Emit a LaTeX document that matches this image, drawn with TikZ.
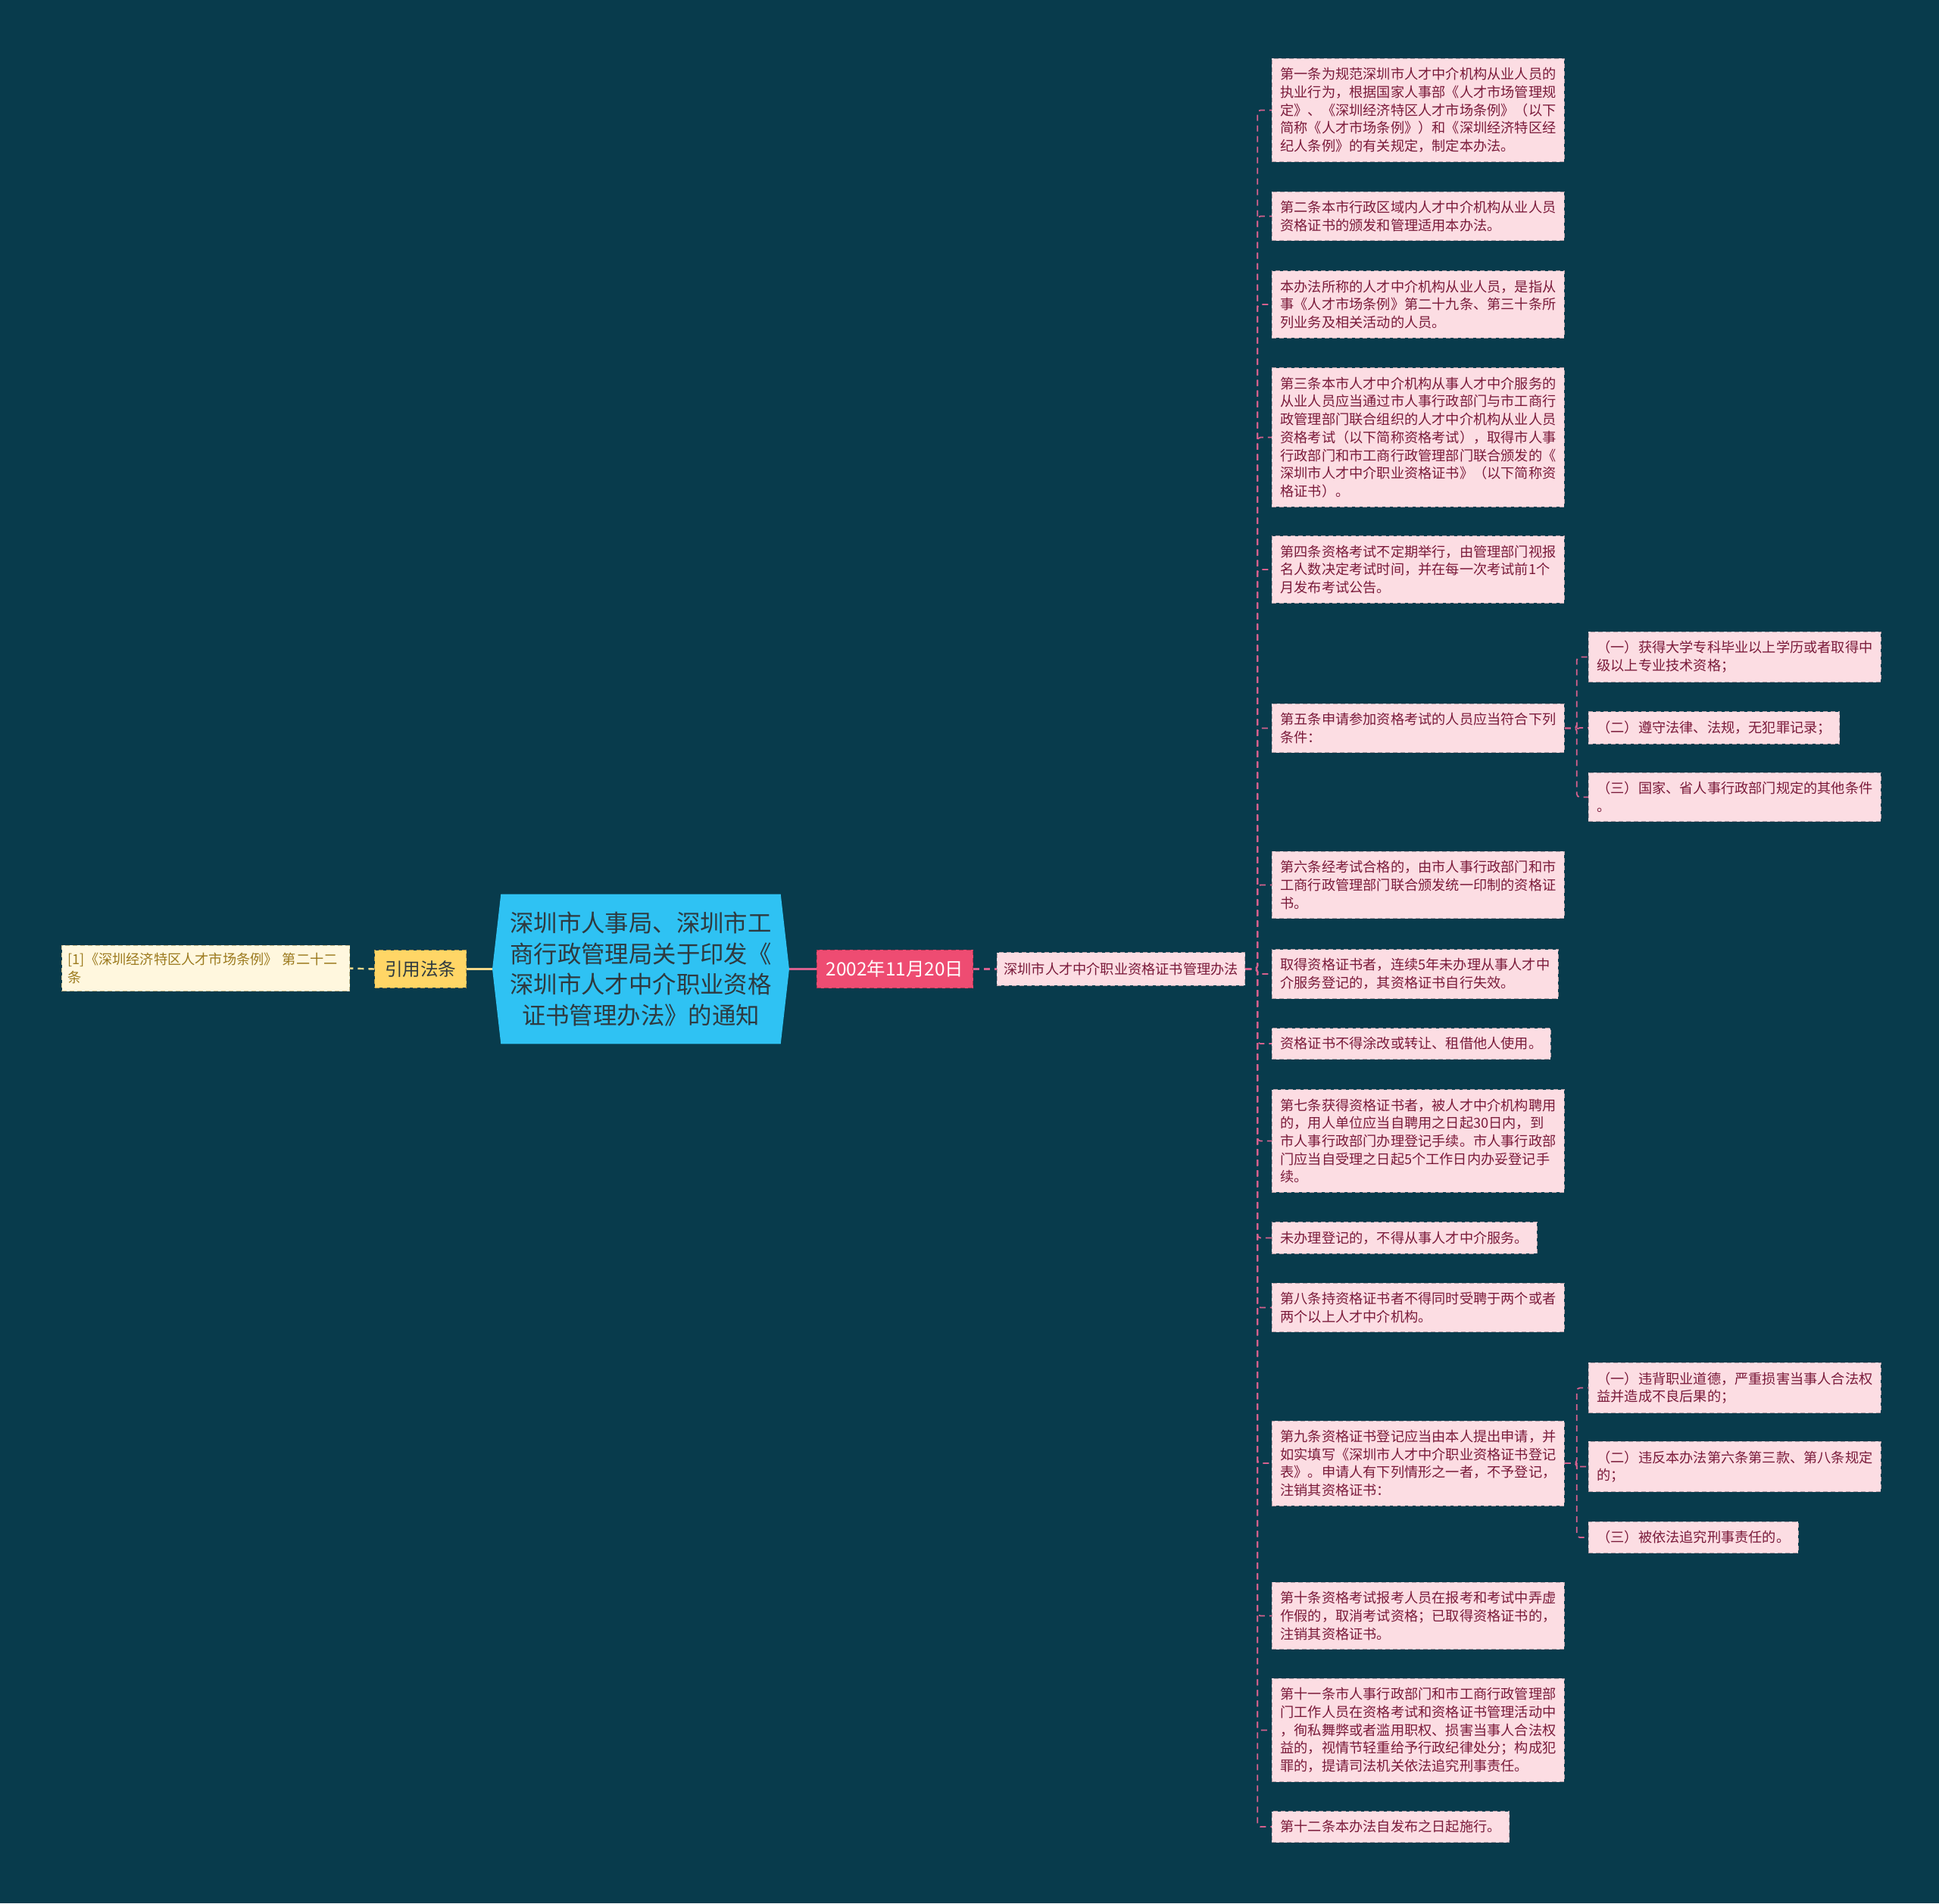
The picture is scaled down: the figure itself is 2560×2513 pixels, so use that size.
\documentclass[tikz,border=0pt]{standalone}
\usepackage{fontspec}
\setmainfont{Noto Sans CJK SC}
\usepackage{tikz}
\usetikzlibrary{positioning,shapes.symbols}
\definecolor{bgcol}{HTML}{083B4C}
\definecolor{rootcol}{HTML}{2FC2F3}
\definecolor{roottext}{HTML}{2E3A40}
\definecolor{datecol}{HTML}{EE4C72}
\definecolor{tagcol}{HTML}{FFD666}
\definecolor{refcol}{HTML}{FFF7DE}
\definecolor{reftext}{HTML}{9C7A1E}
\definecolor{leafcol}{HTML}{FCDDE3}
\definecolor{leafline}{HTML}{B8A0A8}
\definecolor{leaftext}{HTML}{7A1A3A}
\definecolor{linkcol}{HTML}{D6618E}
\definecolor{taglink}{HTML}{F3D98A}

\begin{document}
\begin{tikzpicture}[
   x=0.5pt, y=-0.5pt,
   font=\fontsize{9.1pt}{11.85pt}\selectfont,
   leaf/.style={draw=leafline,densely dashed,line width=0.4pt,fill=leafcol,
                text=leaftext,align=left,inner xsep=5.5pt,inner ysep=6pt,anchor=west},
   rootnode/.style={shape=signal,signal to=west and east,signal pointer angle=167,
                fill=rootcol,text=roottext,align=center,inner xsep=6pt,inner ysep=11.5pt,
                font=\fontsize{15.7pt}{20.4pt}\selectfont},
   datenode/.style={draw=datecol!70!black,densely dashed,line width=0.4pt,fill=datecol,
                text=white,inner xsep=6.2pt,inner ysep=7pt,
                font=\fontsize{12.2pt}{14pt}\selectfont},
   tagnode/.style={draw=tagcol!70!black,densely dashed,line width=0.4pt,fill=tagcol,
                text=roottext,inner xsep=6.6pt,inner ysep=7pt,
                font=\fontsize{11.8pt}{14pt}\selectfont},
   refnode/.style={draw=reftext!50,densely dashed,line width=0.4pt,fill=refcol,
                text=reftext,align=left,inner xsep=4pt,inner ysep=5pt,
                text width=182pt},
   link/.style={linkcol,dash pattern=on 4pt off 3pt,line width=0.9pt,rounded corners=2pt},
   mainlink/.style={line width=1.6pt},
]
\fill[bgcol] (0,0) rectangle (2560,2513);

% centre and left side
\node[rootnode] (root) at (846,1279.5)
        {深圳市人事局、深圳市工\\商行政管理局关于印发《\\深圳市人才中介职业资格\\证书管理办法》的通知};
\node[tagnode, anchor=east] (tag) at (616,1279.5) {引用法条};
\node[refnode, anchor=east] (ref) at (462,1278.5)
        {[1]《深圳经济特区人才市场条例》 第二十二\\条};
\node[datenode, anchor=west] (date) at (1078,1279.5) {2002年11月20日};
\node[leaf, inner ysep=6.7pt, inner xsep=4.5pt] (law) at (1316,1279.5)
        {深圳市人才中介职业资格证书管理办法};

% articles
\node[leaf] (a1) at (1679,145.5)
        {第一条为规范深圳市人才中介机构从业人员的\\执业行为，根据国家人事部《人才市场管理规\\定》、《深圳经济特区人才市场条例》（以下\\简称《人才市场条例》）和《深圳经济特区经\\纪人条例》的有关规定，制定本办法。};
\node[leaf] (a2) at (1679,285.5)
        {第二条本市行政区域内人才中介机构从业人员\\资格证书的颁发和管理适用本办法。};
\node[leaf] (a3) at (1679,402)
        {本办法所称的人才中介机构从业人员，是指从\\事《人才市场条例》第二十九条、第三十条所\\列业务及相关活动的人员。};
\node[leaf] (a4) at (1679,577.5)
        {第三条本市人才中介机构从事人才中介服务的\\从业人员应当通过市人事行政部门与市工商行\\政管理部门联合组织的人才中介机构从业人员\\资格考试（以下简称资格考试），取得市人事\\行政部门和市工商行政管理部门联合颁发的《\\深圳市人才中介职业资格证书》（以下简称资\\格证书）。};
\node[leaf] (a5) at (1679,752)
        {第四条资格考试不定期举行，由管理部门视报\\名人数决定考试时间，并在每一次考试前1个\\月发布考试公告。};
\node[leaf] (a6) at (1679,961.5)
        {第五条申请参加资格考试的人员应当符合下列\\条件：};
\node[leaf] (a7) at (1679,1168.5)
        {第六条经考试合格的，由市人事行政部门和市\\工商行政管理部门联合颁发统一印制的资格证\\书。};
\node[leaf] (a8) at (1679,1286)
        {取得资格证书者，连续5年未办理从事人才中\\介服务登记的，其资格证书自行失效。};
\node[leaf] (a9) at (1679,1378)
        {资格证书不得涂改或转让、租借他人使用。};
\node[leaf] (a10) at (1679,1506.5)
        {第七条获得资格证书者，被人才中介机构聘用\\的，用人单位应当自聘用之日起30日内，到\\市人事行政部门办理登记手续。市人事行政部\\门应当自受理之日起5个工作日内办妥登记手\\续。};
\node[leaf] (a11) at (1679,1634.5)
        {未办理登记的，不得从事人才中介服务。};
\node[leaf] (a12) at (1679,1726.5)
        {第八条持资格证书者不得同时受聘于两个或者\\两个以上人才中介机构。};
\node[leaf] (a13) at (1679,1932)
        {第九条资格证书登记应当由本人提出申请，并\\如实填写《深圳市人才中介职业资格证书登记\\表》。申请人有下列情形之一者，不予登记，\\注销其资格证书：};
\node[leaf] (a14) at (1679,2133.5)
        {第十条资格考试报考人员在报考和考试中弄虚\\作假的，取消考试资格；已取得资格证书的，\\注销其资格证书。};
\node[leaf] (a15) at (1679,2284.5)
        {第十一条市人事行政部门和市工商行政管理部\\门工作人员在资格考试和资格证书管理活动中\\，徇私舞弊或者滥用职权、损害当事人合法权\\益的，视情节轻重给予行政纪律处分；构成犯\\罪的，提请司法机关依法追究刑事责任。};
\node[leaf] (a16) at (1679,2412)
        {第十二条本办法自发布之日起施行。};

% conditions
\node[leaf] (c1) at (2097,867.5)
        {（一）获得大学专科毕业以上学历或者取得中\\级以上专业技术资格；};
\node[leaf] (c2) at (2097,961)
        {（二）遵守法律、法规，无犯罪记录；};
\node[leaf] (c3) at (2097,1052.5)
        {（三）国家、省人事行政部门规定的其他条件\\。};
\node[leaf] (d1) at (2097,1832.5)
        {（一）违背职业道德，严重损害当事人合法权\\益并造成不良后果的；};
\node[leaf] (d2) at (2097,1936.5)
        {（二）违反本办法第六条第三款、第八条规定\\的；};
\node[leaf] (d3) at (2097,2030)
        {（三）被依法追究刑事责任的。};

% main links
\draw[taglink,mainlink] (root.west) -- (tag.east);
\draw[taglink,dash pattern=on 4pt off 3pt,line width=1.2pt] (tag.west) -- (ref.east);
\draw[linkcol,mainlink] (root.east) -- (date.west);
\draw[link,line width=1.2pt] (date.east) -- (law.west);

% article links
\draw[link] (law.east) -- ++(16,0) |- (a1.west);
\draw[link] (law.east) -- ++(16,0) |- (a2.west);
\draw[link] (law.east) -- ++(16,0) |- (a3.west);
\draw[link] (law.east) -- ++(16,0) |- (a4.west);
\draw[link] (law.east) -- ++(16,0) |- (a5.west);
\draw[link] (law.east) -- ++(16,0) |- (a6.west);
\draw[link] (law.east) -- ++(16,0) |- (a7.west);
\draw[link] (law.east) -- ++(16,0) |- (a8.west);
\draw[link] (law.east) -- ++(16,0) |- (a9.west);
\draw[link] (law.east) -- ++(16,0) |- (a10.west);
\draw[link] (law.east) -- ++(16,0) |- (a11.west);
\draw[link] (law.east) -- ++(16,0) |- (a12.west);
\draw[link] (law.east) -- ++(16,0) |- (a13.west);
\draw[link] (law.east) -- ++(16,0) |- (a14.west);
\draw[link] (law.east) -- ++(16,0) |- (a15.west);
\draw[link] (law.east) -- ++(16,0) |- (a16.west);

% condition links
\draw[link] (a6.east) -- ++(16,0) |- (c1.west);
\draw[link] (a6.east) -- ++(16,0) |- (c2.west);
\draw[link] (a6.east) -- ++(16,0) |- (c3.west);
\draw[link] (a13.east) -- ++(16,0) |- (d1.west);
\draw[link] (a13.east) -- ++(16,0) |- (d2.west);
\draw[link] (a13.east) -- ++(16,0) |- (d3.west);

\end{tikzpicture}
\end{document}
